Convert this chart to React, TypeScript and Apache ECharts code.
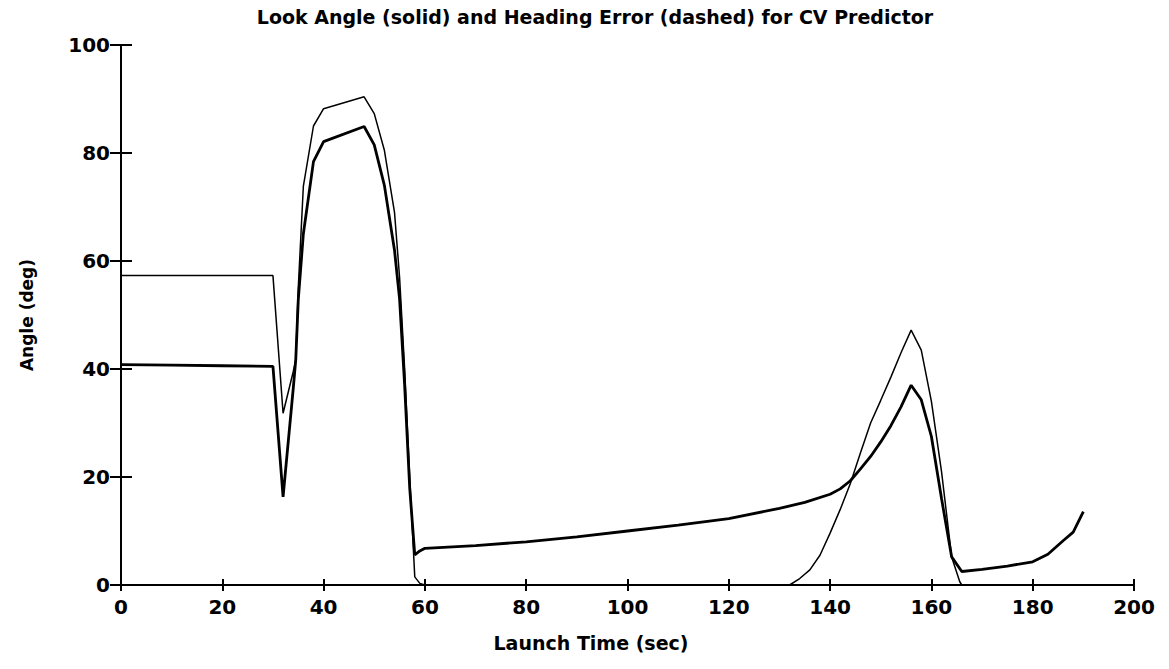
import React, { useEffect, useRef } from "react";
import * as echarts from "echarts";

// Look angle (solid, heavy line)
const lookTime = [0, 10, 20, 30, 32, 34, 34.5, 35, 36, 38, 40, 48, 50, 52, 54, 55, 56, 57, 58, 59, 60, 70, 80, 90, 100, 110, 120, 130, 135, 140, 142, 144, 146, 148, 150, 152, 154, 156, 158, 160, 162, 164, 166, 170, 175, 180, 183, 186, 188, 190];
const lookAngle = [40.8, 40.7, 40.6, 40.5, 16.3, 36.3, 41.7, 52.8, 65, 78.4, 82.1, 84.9, 81.5, 74, 62, 53, 37, 18, 5.6, 6.3, 6.8, 7.3, 8.0, 8.9, 10.0, 11.1, 12.3, 14.2, 15.3, 16.8, 17.8, 19.3, 21.5, 23.8, 26.5, 29.5, 33, 37, 34.3, 27.5, 16, 5.2, 2.5, 2.9, 3.5, 4.3, 5.7, 8.2, 9.8, 13.6];

// Heading error (dashed, light line)
const headTime = [0, 30, 32, 34, 34.5, 35, 36, 38, 40, 48, 50, 52, 54, 55, 56, 57, 58, 59, 60, 132, 134, 136, 138, 140, 142, 144, 146, 148, 150, 152, 154, 156, 158, 160, 162, 164, 165.6, 166];
const headError = [57.3, 57.3, 31.8, 39.5, 41.7, 55, 73.8, 85, 88.2, 90.4, 87.3, 80.5, 69, 57, 40, 20, 1.5, 0.3, 0, 0, 1.2, 2.8, 5.5, 9.6, 14, 18.8, 24.5, 30, 34.2, 38.5, 43, 47.2, 43.5, 34, 21, 5.2, 0.6, 0];

const xTicks = { min: 0, max: 200, interval: 20 };
const yTicks = { min: 0, max: 100, interval: 20 };

const FONT = "DejaVu Sans";

export default function App() {
  const ref = useRef<HTMLDivElement>(null);

  useEffect(() => {
    if (!ref.current) return;
    const chart = echarts.init(ref.current, undefined, { renderer: "svg" });
    const axisLine = { show: true, lineStyle: { color: "#000", width: 2 } };
    const tickStyle = { color: "#000", width: 2 };
    const labelStyle = { color: "#000", fontFamily: FONT, fontWeight: "bold" as const, fontSize: 20 };

    chart.setOption({
      animation: false,
      backgroundColor: "#fff",
      title: {
        text: "Look Angle (solid) and Heading Error (dashed) for CV Predictor",
        left: 590,
        textAlign: "center",
        top: 2,
        textStyle: { color: "#000", fontFamily: FONT, fontWeight: "bold", fontSize: 19 },
      },
      graphic: [
        {
          type: "text",
          x: 591,
          y: 643,
          style: {
            text: "Launch Time (sec)",
            fill: "#000",
            font: `bold 19px "${FONT}"`,
            textAlign: "center",
            textVerticalAlign: "middle",
          },
        },
        {
          type: "text",
          x: 27,
          y: 315,
          rotation: Math.PI / 2,
          style: {
            text: "Angle (deg)",
            fill: "#000",
            font: `bold 17px "${FONT}"`,
            textAlign: "center",
            textVerticalAlign: "middle",
          },
        },
      ],
      grid: { left: 121, right: 35, top: 45, bottom: 84 },
      xAxis: [
        {
          type: "value",
          position: "bottom",
          ...xTicks,
          axisLine,
          axisTick: { show: true, inside: true, length: 6, lineStyle: tickStyle },
          axisLabel: { ...labelStyle, margin: 12 },
          splitLine: { show: false },
        },
        {
          type: "value",
          position: "top",
          ...xTicks,
          axisLine,
          axisTick: { show: true, inside: true, length: 6, lineStyle: tickStyle },
          axisLabel: { show: false },
          splitLine: { show: false },
        },
      ],
      yAxis: [
        {
          type: "value",
          position: "left",
          ...yTicks,
          axisLine,
          axisTick: { show: true, inside: true, length: 11, lineStyle: tickStyle },
          axisLabel: { ...labelStyle, margin: 11 },
          splitLine: { show: false },
        },
        {
          type: "value",
          position: "right",
          ...yTicks,
          axisLine,
          axisTick: { show: true, inside: true, length: 11, lineStyle: tickStyle },
          axisLabel: { show: false },
          splitLine: { show: false },
        },
      ],
      series: [
        {
          name: "Look Angle",
          type: "line",
          xAxisIndex: 0,
          yAxisIndex: 0,
          showSymbol: false,
          lineStyle: { color: "#000", width: 2.8 },
          data: lookTime.map((t, i) => [t, lookAngle[i]]),
        },
        {
          name: "Heading Error",
          type: "line",
          xAxisIndex: 0,
          yAxisIndex: 0,
          showSymbol: false,
          lineStyle: { color: "#000", width: 1.5 },
          data: headTime.map((t, i) => [t, headError[i]]),
        },
      ],
    });
    return () => chart.dispose();
  }, []);

  return (
    <div
      ref={ref}
      style={{ position: "fixed", left: 0, top: 0, width: 1169, height: 669, background: "#fff" }}
    />
  );
}
